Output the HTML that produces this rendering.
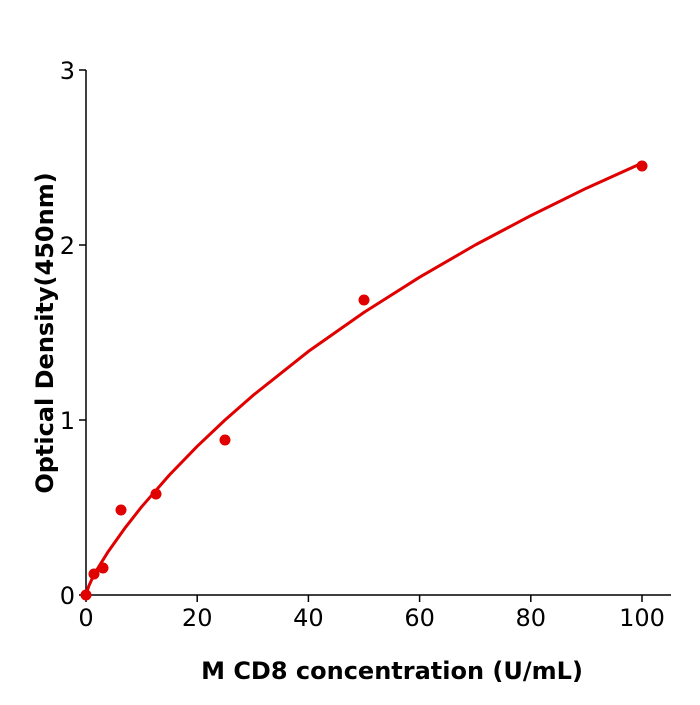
<!DOCTYPE html>
<html><head><style>body{margin:0;background:#fff}</style></head><body>
<svg width="700" height="700" xmlns="http://www.w3.org/2000/svg" font-family="DejaVu Sans, Liberation Sans, sans-serif">
<rect width="700" height="700" fill="#fff"/>
<g stroke="#000" stroke-width="1.5" fill="none">
<line x1="86" y1="70" x2="86" y2="596"/>
<line x1="85" y1="595" x2="671" y2="595"/>
<line x1="79" y1="70" x2="86" y2="70"/>
<line x1="79" y1="245" x2="86" y2="245"/>
<line x1="79" y1="420" x2="86" y2="420"/>
<line x1="79" y1="595" x2="86" y2="595"/>
<line x1="86" y1="595" x2="86" y2="602"/>
<line x1="197.2" y1="595" x2="197.2" y2="602"/>
<line x1="308.4" y1="595" x2="308.4" y2="602"/>
<line x1="419.6" y1="595" x2="419.6" y2="602"/>
<line x1="530.8" y1="595" x2="530.8" y2="602"/>
<line x1="642" y1="595" x2="642" y2="602"/>
</g>
<g font-size="24" fill="#000" text-anchor="end">
<text x="75" y="79">3</text>
<text x="75" y="254">2</text>
<text x="75" y="429">1</text>
<text x="75" y="604">0</text>
</g>
<g font-size="24" fill="#000" text-anchor="middle">
<text x="86" y="626">0</text>
<text x="197.2" y="626">20</text>
<text x="308.4" y="626">40</text>
<text x="419.6" y="626">60</text>
<text x="530.8" y="626">80</text>
<text x="642" y="626">100</text>
</g>
<text x="392" y="679" font-size="24" font-weight="bold" text-anchor="middle">M  CD8 concentration (U/mL)</text>
<text transform="translate(53,333) rotate(-90)" font-size="24" font-weight="bold" text-anchor="middle">Optical Density(450nm)</text>
<polyline fill="none" stroke="#e00000" stroke-width="3" stroke-linejoin="round" points="86,595 88.8,586 91.6,579.9 97.1,569.4 108.2,551.6 124.9,528.1 141.6,506.8 169.4,475 197.2,446.3 225,420 252.8,395.6 308.4,351.4 364,312.4 419.6,277.2 475.2,245 530.8,215.6 586.4,188.2 642,163.1"/>
<g fill="#e00000">
<circle cx="86" cy="595" r="5.5"/>
<circle cx="94" cy="574" r="5.5"/>
<circle cx="103" cy="568" r="5.5"/>
<circle cx="121" cy="510" r="5.5"/>
<circle cx="156" cy="494" r="5.5"/>
<circle cx="225" cy="440" r="5.5"/>
<circle cx="364" cy="300" r="5.5"/>
<circle cx="642" cy="166" r="5.5"/>
</g>
</svg>
</body></html>
